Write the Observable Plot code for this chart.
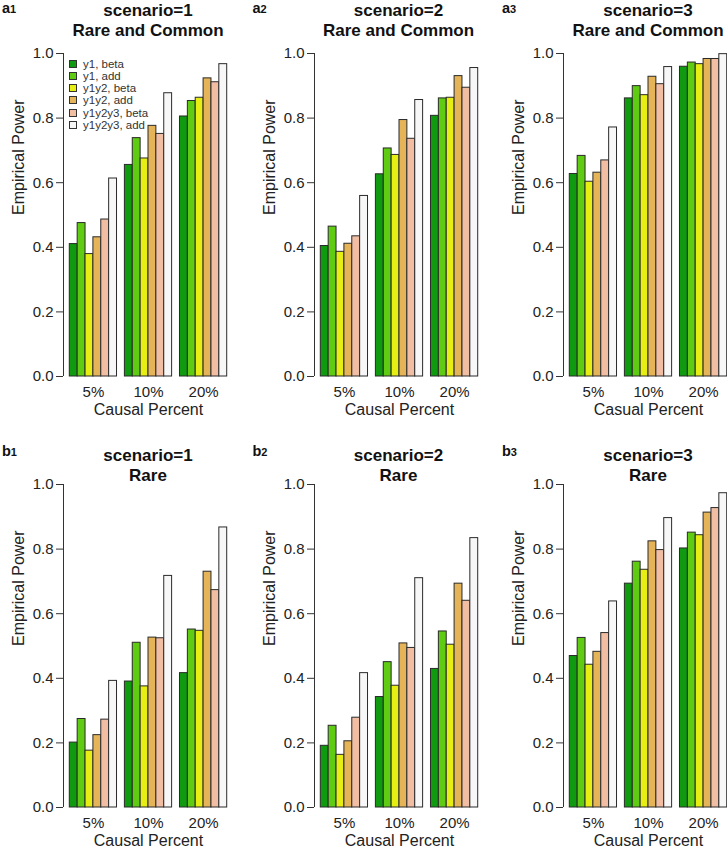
<!DOCTYPE html>
<html><head><meta charset="utf-8">
<script src="https://cdn.jsdelivr.net/npm/d3@7"></script>
<script src="https://cdn.jsdelivr.net/npm/@observablehq/plot@0.6"></script>
<style>
html,body{margin:0;padding:0;background:#fff;}
body{width:727px;height:854px;overflow:hidden;position:relative;font-family:"Liberation Sans",Arial,Helvetica,sans-serif;color:#111;}
.pnl{position:absolute;}
.pnl svg{max-width:none;overflow:visible;}
.ttl{position:absolute;width:240px;font-weight:bold;font-size:17px;line-height:20px;text-align:center;white-space:nowrap;}
.lab{position:absolute;font-weight:bold;font-size:14.5px;line-height:14.5px;white-space:nowrap;}
.lab span{font-size:11px;}
.leg{position:absolute;font-size:11.5px;line-height:12.15px;color:#333;}
.leg div{display:flex;align-items:center;height:12.15px;white-space:nowrap;}
.leg i{display:inline-block;width:6px;height:6px;border:1px solid #333;margin-right:6px;}
</style></head>
<body><div id="root"></div>
<script>
// ---- data ----
const groups = ["5%", "10%", "20%"];
const seriesNames = ["y1, beta", "y1, add", "y1y2, beta", "y1y2, add", "y1y2y3, beta", "y1y2y3, add"];
const seriesColors = ["#109a10", "#5fcb12", "#e6ee14", "#e5b458", "#f1bea4", "#f7f7f7"];
const yTicks = [0, 0.2, 0.4, 0.6, 0.8, 1.0];
const panelLetters = [["a", "1"], ["a", "2"], ["a", "3"], ["b", "1"], ["b", "2"], ["b", "3"]];
const scenarios = ["scenario=1", "scenario=2", "scenario=3"];
const subsets = ["Rare and Common", "Rare"];
const xLabels = ["Causal Percent", "Causal Percent", "Casual Percent", "Causal Percent", "Causal Percent", "Causal Percent"];
const yLabel = "Empirical Power";

// rows: 5%, 10%, 20%; columns: seriesNames order
const powerA1 = [
  [0.410, 0.475, 0.379, 0.431, 0.486, 0.613],
  [0.655, 0.738, 0.675, 0.776, 0.751, 0.877],
  [0.805, 0.853, 0.863, 0.923, 0.911, 0.967]
];
const powerA2 = [
  [0.404, 0.464, 0.386, 0.411, 0.434, 0.559],
  [0.626, 0.706, 0.686, 0.794, 0.736, 0.856],
  [0.807, 0.861, 0.863, 0.930, 0.894, 0.955]
];
const powerA3 = [
  [0.627, 0.683, 0.603, 0.631, 0.669, 0.771],
  [0.861, 0.899, 0.871, 0.928, 0.905, 0.958],
  [0.959, 0.972, 0.967, 0.983, 0.983, 0.998]
];
const powerB1 = [
  [0.201, 0.274, 0.176, 0.224, 0.272, 0.392],
  [0.390, 0.510, 0.375, 0.526, 0.524, 0.717],
  [0.416, 0.551, 0.547, 0.730, 0.673, 0.867]
];
const powerB2 = [
  [0.191, 0.253, 0.163, 0.205, 0.278, 0.416],
  [0.342, 0.450, 0.377, 0.508, 0.494, 0.710],
  [0.429, 0.545, 0.504, 0.693, 0.640, 0.834]
];
const powerB3 = [
  [0.469, 0.525, 0.442, 0.482, 0.540, 0.638],
  [0.693, 0.761, 0.736, 0.824, 0.797, 0.896],
  [0.802, 0.851, 0.843, 0.913, 0.927, 0.973]
];
const panelValues = [powerA1, powerA2, powerA3, powerB1, powerB2, powerB3];

// ---- layout ----
const colLeft = [0, 250.5, 500];
const rowTop = [0, 431];
const titleTop = [1.4, 446.4];
const labelTop = [0.5, 444];

const nS = seriesNames.length;
const step = nS + 1;

function makePanel(values, xLabel) {
  const data = [];
  values.forEach((row, g) => row.forEach((v, s) => data.push({
    group: groups[g], series: seriesNames[s], pos: 1 + g * step + s, value: v
  })));
  const centers = groups.map((_, g) => 1 + g * step + nS / 2);
  const lo = 1, hi = 1 + groups.length * step - 1;
  const pad = 0.04 * (hi - lo);
  const xDomain = [lo - pad, hi + pad];
  return Plot.plot({
    width: 235, height: 425,
    marginLeft: 63, marginRight: 2, marginTop: 53, marginBottom: 49,
    style: {fontFamily: '"Liberation Sans", Arial, Helvetica, sans-serif', fontSize: "15px", color: "#222", background: "transparent", overflow: "visible"},
    x: {domain: xDomain, axis: null},
    y: {domain: [yTicks[0], yTicks[yTicks.length - 1]], axis: null},
    color: {domain: seriesNames, range: seriesColors},
    marks: [
      Plot.rect(data, {x1: "pos", x2: d => d.pos + 1, y1: yTicks[0], y2: "value", fill: "series", stroke: "#2a2a2a", strokeWidth: 1}),
      Plot.ruleX([xDomain[0]], {y1: yTicks[0], y2: yTicks[yTicks.length - 1], stroke: "#333", strokeWidth: 1}),
      Plot.axisY(yTicks, {tickFormat: d3.format(".1f"), tickSize: 7, tickPadding: 3, fontSize: 15, label: null, stroke: "#333"}),
      Plot.axisX(centers, {tickFormat: d => groups[centers.indexOf(d)], tickSize: 0, tickPadding: 10, fontSize: 15, label: null}),
      Plot.text([xLabel], {text: d => d, frameAnchor: "bottom", dy: 38, fontSize: 16, fill: "#222"}),
      Plot.text([yLabel], {text: d => d, frameAnchor: "left", rotate: -90, dx: -45, fontSize: 16, fill: "#222"})
    ]
  });
}

const root = document.getElementById("root");
for (let i = 0; i < 6; i++) {
  const r = Math.floor(i / 3), c = i % 3;
  const div = document.createElement("div");
  div.className = "pnl";
  div.style.left = colLeft[c] + "px";
  div.style.top = rowTop[r] + "px";
  div.appendChild(makePanel(panelValues[i], xLabels[i]));
  root.appendChild(div);

  const t = document.createElement("div");
  t.className = "ttl";
  t.style.left = (colLeft[c] + 148 - 120) + "px";
  t.style.top = titleTop[r] + "px";
  t.innerHTML = scenarios[c] + "<br>" + subsets[r];
  root.appendChild(t);

  const l = document.createElement("div");
  l.className = "lab";
  l.style.left = (colLeft[c] + 2) + "px";
  l.style.top = labelTop[r] + "px";
  l.innerHTML = panelLetters[i][0] + "<span>" + panelLetters[i][1] + "</span>";
  root.appendChild(l);
}

// legend in first panel
const leg = document.createElement("div");
leg.className = "leg";
leg.style.left = "69px";
leg.style.top = "58px";
seriesNames.forEach((n, k) => {
  const row = document.createElement("div");
  const sw = document.createElement("i");
  sw.style.background = seriesColors[k];
  row.appendChild(sw);
  row.appendChild(document.createTextNode(n));
  leg.appendChild(row);
});
root.appendChild(leg);
</script>
</body></html>
